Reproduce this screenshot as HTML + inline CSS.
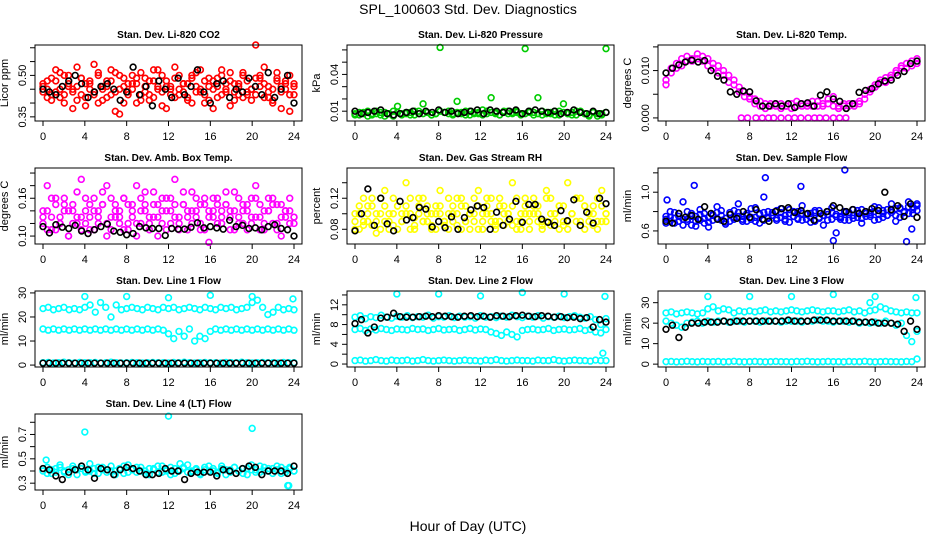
<!DOCTYPE html>
<html><head><meta charset="utf-8"><title>SPL_100603 Std. Dev. Diagnostics</title>
<style>
html,body{margin:0;padding:0;background:#fff;}
svg{display:block;font-family:"Liberation Sans",Arial,sans-serif;}
</style></head>
<body>
<svg id="chart" width="936" height="540" viewBox="0 0 936 540" xmlns="http://www.w3.org/2000/svg">
<rect width="936" height="540" fill="#fff"/>
<text x="468" y="14" text-anchor="middle" font-size="14">SPL_100603  Std. Dev. Diagnostics</text>
<text x="468" y="531" text-anchor="middle" font-size="14">Hour of Day (UTC)</text>
</svg>
<script>
// ---- data ----
const hourTicks = [0,4,8,12,16,20,24];
const co2A = [0.46,0.42,0.49,0.44,0.51,0.40,0.47,0.45,0.53,0.43,0.39,0.48,0.44,0.50,0.41,0.46,0.52,0.37,0.45,0.49,0.43,0.47,0.40,0.51,0.44,0.48,0.42,0.46,0.50,0.38,0.45,0.53,0.43,0.47,0.41,0.49,0.44,0.52,0.40,0.46,0.48,0.42,0.50,0.45,0.39,0.47,0.43,0.51,0.44,0.41,0.49,0.46,0.53,0.42,0.45,0.48,0.38,0.47,0.50,0.43];
const co2B = [0.44,0.48,0.41,0.52,0.45,0.43,0.50,0.38,0.46,0.49,0.42,0.47,0.54,0.40,0.45,0.48,0.43,0.51,0.36,0.46,0.44,0.50,0.47,0.41,0.49,0.43,0.52,0.45,0.39,0.48,0.46,0.42,0.50,0.44,0.47,0.40,0.51,0.45,0.43,0.49,0.38,0.46,0.52,0.44,0.48,0.41,0.47,0.50,0.43,0.45,0.61,0.49,0.42,0.46,0.40,0.51,0.44,0.48,0.37,0.46];
const co2C = [0.47,0.45,0.43,0.48,0.42,0.50,0.46,0.44,0.41,0.49,0.47,0.45,0.43,0.51,0.46,0.42,0.48,0.44,0.50,0.40,0.47,0.45,0.49,0.43,0.46,0.41,0.48,0.52,0.44,0.46,0.43,0.49,0.45,0.47,0.42,0.50,0.46,0.44,0.48,0.41,0.45,0.49,0.43,0.47,0.51,0.44,0.46,0.42,0.48,0.45,0.43,0.50,0.47,0.44,0.41,0.49,0.46,0.45,0.43,0.47];
const co2K = [0.45,0.44,0.43,0.46,0.48,0.50,0.47,0.42,0.44,0.46,0.47,0.45,0.41,0.44,0.53,0.43,0.46,0.39,0.48,0.45,0.42,0.49,0.43,0.46,0.52,0.44,0.40,0.47,0.48,0.42,0.45,0.44,0.49,0.46,0.43,0.51,0.42,0.45,0.50,0.40];
const prsA = [0.008,0.007,0.009,0.006,0.008,0.010,0.007,0.009,0.008,0.006,0.014,0.008,0.009,0.007,0.010,0.008,0.016,0.009,0.007,0.008,0.062,0.009,0.010,0.008,0.018,0.009,0.007,0.010,0.008,0.009,0.011,0.008,0.021,0.009,0.007,0.010,0.008,0.009,0.010,0.008,0.061,0.009,0.007,0.021,0.010,0.008,0.009,0.007,0.010,0.016,0.008,0.009,0.007,0.010,0.008,0.006,0.009,0.008,0.007,0.061];
const prsB = [0.007,0.009,0.008,0.010,0.007,0.008,0.009,0.006,0.008,0.010,0.009,0.007,0.008,0.009,0.007,0.010,0.008,0.009,0.007,0.008,0.010,0.009,0.008,0.007,0.009,0.008,0.010,0.007,0.009,0.008,0.007,0.010,0.009,0.008,0.007,0.009,0.010,0.008,0.009,0.007,0.008,0.010,0.009,0.008,0.007,0.009,0.008,0.010,0.007,0.009,0.008,0.007,0.010,0.009,0.008,0.007,0.009,0.006,0.008,0.009];
const prsK = [0.010,0.008,0.009,0.010,0.011,0.008,0.007,0.008,0.009,0.010,0.008,0.010,0.009,0.011,0.009,0.010,0.008,0.009,0.010,0.011,0.008,0.011,0.010,0.009,0.010,0.011,0.008,0.010,0.011,0.010,0.009,0.010,0.008,0.009,0.011,0.009,0.008,0.010,0.008,0.009];
const tmpA = [0.0080,0.0095,0.0105,0.0110,0.0120,0.0125,0.0135,0.0130,0.0125,0.0115,0.0110,0.0100,0.0090,0.0080,0.0065,0.0055,0.0045,0.0040,0.0035,0.0030,0.0030,0.0025,0.0030,0.0025,0.0030,0.0035,0.0025,0.0030,0.0025,0.0035,0.0030,0.0040,0.0045,0.0025,0.0030,0.0025,0.0030,0.0035,0.0040,0.0055,0.0065,0.0075,0.0085,0.0090,0.0095,0.0105,0.0115,0.0120,0.0115];
const tmpB = [0.0070,0.0105,0.0115,0.0125,0.0130,0.0120,0.0125,0.0120,0.0110,0.0105,0.0095,0.0090,0.0075,0.0070,0.0055,0.0045,0.0040,0.0030,0.0025,0.0020,0.0025,0.0030,0.0020,0.0025,0.0020,0.0025,0.0030,0.0025,0.0035,0.0025,0.0025,0.0030,0.0025,0.0020,0.0025,0.0030,0.0025,0.0030,0.0050,0.0060,0.0070,0.0080,0.0075,0.0085,0.0100,0.0110,0.0105,0.0110,0.0125];
const tmpZeroHours = [7.2,7.8,8.6,9.2,9.8,10.3,11,11.7,12.3,12.9,13.6,14.2,14.7,15.3,16,16.6,17.2];
const tmpZeroVals = [0,0,0,0,0,0,0,0,0,0,0,0,0,0,0,0,0];
const tmpK = [0.0095,0.0105,0.0112,0.0118,0.0122,0.0118,0.0121,0.0100,0.0088,0.0080,0.0055,0.0050,0.0057,0.0055,0.0036,0.0025,0.0025,0.0030,0.0025,0.0030,0.0022,0.0030,0.0032,0.0025,0.0048,0.0055,0.0040,0.0035,0.0020,0.0030,0.0054,0.0058,0.0062,0.0072,0.0078,0.0080,0.0090,0.0098,0.0115,0.0120];
const ambA = [0.13,0.18,0.11,0.15,0.12,0.16,0.10,0.14,0.13,0.19,0.12,0.15,0.11,0.14,0.17,0.10,0.13,0.15,0.12,0.16,0.11,0.14,0.18,0.12,0.15,0.13,0.17,0.10,0.14,0.16,0.12,0.19,0.13,0.15,0.11,0.17,0.14,0.12,0.16,0.09,0.14,0.15,0.13,0.17,0.11,0.14,0.16,0.12,0.15,0.13,0.18,0.11,0.14,0.16,0.12,0.15,0.10,0.14,0.16,0.13];
const ambB = [0.12,0.14,0.16,0.11,0.13,0.15,0.14,0.12,0.17,0.11,0.14,0.13,0.16,0.12,0.15,0.18,0.11,0.14,0.13,0.16,0.12,0.15,0.10,0.14,0.17,0.12,0.15,0.13,0.16,0.11,0.14,0.15,0.12,0.17,0.13,0.14,0.16,0.11,0.15,0.13,0.16,0.12,0.14,0.15,0.13,0.17,0.12,0.14,0.11,0.16,0.13,0.15,0.12,0.14,0.16,0.11,0.15,0.13,0.14,0.12];
const ambC = [0.14,0.11,0.13,0.16,0.12,0.14,0.10,0.15,0.12,0.13,0.16,0.11,0.14,0.13,0.15,0.12,0.16,0.13,0.14,0.11,0.15,0.13,0.12,0.16,0.14,0.11,0.13,0.15,0.12,0.14,0.16,0.13,0.11,0.15,0.14,0.12,0.13,0.15,0.11,0.14,0.13,0.16,0.12,0.15,0.14,0.11,0.13,0.15,0.14,0.12,0.16,0.13,0.11,0.14,0.15,0.12,0.13,0.14,0.12,0.13];
const ambK = [0.115,0.105,0.118,0.114,0.112,0.117,0.108,0.104,0.110,0.115,0.119,0.108,0.106,0.102,0.104,0.115,0.113,0.112,0.112,0.101,0.112,0.111,0.111,0.114,0.121,0.113,0.115,0.113,0.111,0.125,0.115,0.117,0.112,0.113,0.110,0.115,0.118,0.112,0.110,0.100];
const rhA = [0.10,0.08,0.12,0.09,0.11,0.075,0.10,0.13,0.09,0.085,0.11,0.10,0.14,0.08,0.095,0.12,0.09,0.11,0.08,0.10,0.13,0.085,0.10,0.09,0.12,0.08,0.11,0.10,0.09,0.13,0.08,0.10,0.12,0.09,0.11,0.085,0.10,0.14,0.09,0.08,0.11,0.10,0.12,0.09,0.08,0.13,0.10,0.09,0.11,0.085,0.14,0.10,0.09,0.12,0.08,0.10,0.11,0.09,0.13,0.10];
const rhB = [0.09,0.11,0.085,0.10,0.12,0.09,0.08,0.11,0.10,0.12,0.08,0.09,0.11,0.10,0.085,0.10,0.12,0.09,0.10,0.08,0.11,0.09,0.12,0.10,0.085,0.11,0.09,0.10,0.12,0.08,0.10,0.11,0.09,0.085,0.12,0.10,0.09,0.11,0.08,0.10,0.12,0.09,0.10,0.11,0.085,0.09,0.12,0.10,0.08,0.11,0.09,0.10,0.12,0.085,0.11,0.09,0.10,0.08,0.11,0.09];
const rhC = [0.08,0.10,0.09,0.11,0.085,0.10,0.12,0.09,0.08,0.10,0.11,0.09,0.10,0.12,0.08,0.11,0.09,0.10,0.085,0.11,0.10,0.09,0.08,0.11,0.10,0.12,0.09,0.08,0.10,0.11,0.09,0.12,0.10,0.08,0.09,0.11,0.10,0.085,0.12,0.09,0.10,0.08,0.11,0.10,0.09,0.12,0.085,0.10,0.11,0.09,0.08,0.10,0.12,0.09,0.11,0.10,0.085,0.12,0.09,0.10];
const rhK = [0.078,0.100,0.132,0.085,0.120,0.087,0.078,0.116,0.092,0.095,0.108,0.106,0.083,0.090,0.082,0.096,0.080,0.095,0.105,0.110,0.108,0.080,0.102,0.085,0.093,0.116,0.089,0.112,0.112,0.093,0.089,0.085,0.104,0.091,0.118,0.085,0.102,0.088,0.120,0.113];
const flowA = [0.72,0.80,0.68,0.75,0.90,0.70,0.78,0.65,0.82,0.73,0.69,0.77,0.85,0.71,0.67,0.79,0.74,0.88,0.70,0.76,0.72,0.84,0.68,0.95,0.74,0.79,0.71,0.83,0.76,0.69,0.80,0.73,0.86,0.72,0.78,0.70,0.81,0.66,0.77,0.84,0.58,0.75,0.79,0.71,0.82,0.74,0.68,0.80,0.77,0.85,0.72,0.81,0.76,0.88,0.70,0.83,0.79,0.90,0.78,0.86];
const flowB = [0.68,0.74,0.79,0.70,0.72,0.80,0.66,0.75,0.71,0.78,0.64,0.76,0.73,0.81,0.69,0.77,0.72,0.79,0.75,0.70,0.83,0.74,0.78,0.71,0.80,0.76,0.73,0.79,0.70,0.82,0.75,0.72,0.78,0.77,0.69,0.81,0.74,0.76,0.71,0.79,0.75,0.72,0.80,0.77,0.73,0.78,0.82,0.75,0.79,0.71,0.84,0.78,0.76,0.81,0.83,0.74,0.80,0.85,0.82,0.88];
const flowC = [0.75,0.70,0.73,0.78,0.66,0.72,0.75,0.70,0.77,0.68,0.74,0.71,0.79,0.76,0.73,0.70,0.81,0.75,0.72,0.78,0.74,0.70,0.77,0.79,0.73,0.76,0.81,0.74,0.72,0.78,0.75,0.80,0.71,0.77,0.74,0.79,0.73,0.76,0.80,0.72,0.77,0.74,0.71,0.79,0.76,0.81,0.73,0.78,0.75,0.80,0.77,0.74,0.82,0.79,0.76,0.84,0.80,0.78,0.85,0.81];
const flowOutHours = [0.1,2.7,9.5,12.9,16,17.1,23,23.5];
const flowOutVals = [0.92,1.07,1.15,1.06,0.50,1.23,0.49,0.62];
const flowK = [0.70,0.68,0.78,0.74,0.76,0.72,0.85,0.78,0.72,0.70,0.77,0.73,0.80,0.74,0.82,0.72,0.70,0.80,0.83,0.84,0.79,0.81,0.78,0.71,0.78,0.80,0.86,0.84,0.80,0.82,0.78,0.80,0.83,0.81,1.00,0.82,0.86,0.75,0.88,0.74];
const l1Top = [23.5,24,23,23.5,24,23,23.5,23,24,25,22,26,24,20,25,23,23.5,24,23.5,23,24,23.5,23,24,23.5,24,23,23.5,24,23.5,23,24,23.5,23,24,23.5,24,23,23.5,24,26,27,24,21,22,24,23,23.5,23];
const l1Mid = [15,14.5,15,14.5,15,14.5,15,14.5,15,14.5,15,14.5,15,14.5,15,14.5,15,14.5,15,14.5,15,14.5,15,14.5,13,11,14,12,15,10,12,11,14,15,14.5,15,14.5,15,14.5,15,14.5,15,14.5,15,14.5,15,14.5,15,14.5];
const l1Low = [1,1.1,0.9,1,1.2,1,0.9,1.1,1,1,1.1,0.9,1,1.2,1,0.9,1,1.1,1,0.9,1,1.1,1,1,0.9,1.1,1,1.2,1,0.9,1,1.1,1,1,0.9,1.1,1,1,1.2,1,0.9,1,1.1,1,1,0.9,1.1,1,1];
const l1K = [0.8,0.8,0.8,0.8,0.8,0.8,0.8,0.8,0.8,0.8,0.8,0.8,0.8,0.8,0.8,0.8,0.8,0.8,0.8,0.8,0.8,0.8,0.8,0.8,0.8,0.8,0.8,0.8,0.8,0.8,0.8,0.8,0.8,0.8,0.8,0.8,0.8,0.8,0.8,0.8];
const l1OutHours = [4,8,12,16,20,23.9];
const l1OutVals = [28.5,28.5,28,29,28.5,27.5];
const l2Top = [9.5,9.8,9.2,9.6,9.4,9.9,9.5,9.3,9.7,9.5,9.8,9.4,9.6,9.5,9.9,9.3,9.6,9.5,9.8,9.4,9.7,9.5,9.6,9.3,9.8,9.5,9.6,9.4,9.7,9.5,9.9,9.6,9.4,9.7,9.5,9.8,9.3,9.6,9.5,9.7,9.4,9.6,9.8,9.5,9.3,9.6,9.0,8.0,9.2];
const l2Mid = [7,7.2,6.8,7.1,6.9,7.2,7,6.8,7.1,7,6.9,7.2,7,7.1,6.8,7,7.2,6.9,7,7.1,6.8,7,7.2,6.9,7.1,7,6.5,6.2,5.8,6.5,6,5.5,6.8,7,7.1,6.9,7,7.2,6.8,7,7.1,6.9,7,7.2,6.8,7,6.5,6.3,7];
const l2Low = [0.7,0.8,0.6,0.7,0.9,0.7,0.6,0.8,0.7,0.7,0.8,0.6,0.7,0.9,0.7,0.6,0.7,0.8,0.7,0.6,0.7,0.8,0.7,0.7,0.6,0.8,0.7,0.9,0.7,0.6,0.7,0.8,0.7,0.7,0.6,0.8,0.7,0.7,0.9,0.7,0.6,0.7,0.8,0.7,0.7,0.6,0.8,0.7,0.7];
const l2K = [8.2,9.0,6.3,7.5,9.3,9.5,10.3,9.6,9.5,9.5,9.6,9.7,9.6,9.8,9.7,9.6,9.5,9.7,9.8,9.6,9.7,9.5,9.8,9.7,9.6,9.8,9.9,9.7,9.6,9.8,9.7,9.5,9.6,9.4,9.5,9.2,9.4,7.5,9.0,8.5];
const l2OutHours = [4,8,12,16,20,23.9,23.7];
const l2OutVals = [14.2,14.2,13.8,14.5,14.2,13.7,2.2];
const l3Top = [25,25.5,24.5,25,25.5,25,24.5,25,27,28,26,27,26.5,25,26,25.5,26,25.5,26,26.5,25.5,26,25.5,26,26.5,26,25.5,26,26.5,26,25.5,26,26,25.5,26,26.5,25.5,26,25,26,26.5,28,27,26,25.5,25,25.5,25,25];
const l3Mid = [21,20,19,18,20,20.5,21,20,21,20.5,21,21,20.5,21,21,20.5,21,21,20.5,21,21,21,20.5,21,21,21,20.5,21,21,21.5,21,21,20.5,21,21,20.5,21,20,20.5,20,20.5,20,21,20,19,20,14,11,16];
const l3Low = [1.2,1.3,1.1,1.2,1.4,1.2,1.1,1.3,1.2,1.2,1.3,1.1,1.2,1.4,1.2,1.1,1.2,1.3,1.2,1.1,1.2,1.3,1.2,1.2,1.1,1.3,1.2,1.4,1.2,1.1,1.2,1.3,1.2,1.2,1.1,1.3,1.2,1.2,1.4,1.2,1.1,1.2,1.3,1.2,1.2,1.1,1.3,1.2,2.5];
const l3K = [17,19,13,18,20,20,20.5,20.5,20.5,21,20.5,21,21,21,21,21,21,21,21,21.5,21,21,21,21.5,21.5,21.5,21,21,21,21,20.5,20.5,20.5,20,20,20,19.5,16,21,17];
const l3OutHours = [4,8,12,16,20,23.9,19.5];
const l3OutVals = [33,33,33,34,33,32.5,30];
const l4A = [0.40,0.43,0.38,0.42,0.45,0.39,0.41,0.44,0.37,0.42,0.40,0.46,0.38,0.43,0.41,0.39,0.44,0.40,0.42,0.38,0.45,0.41,0.39,0.43,0.40,0.37,0.42,0.44,0.39,0.41,0.43,0.38,0.40,0.42,0.45,0.39,0.41,0.37,0.43,0.40,0.42,0.38,0.44,0.41,0.39,0.43,0.40,0.42,0.37,0.45,0.41,0.39,0.43,0.40,0.42,0.44,0.38,0.41,0.43,0.40];
const l4B = [0.42,0.38,0.41,0.39,0.43,0.40,0.37,0.42,0.41,0.44,0.39,0.40,0.42,0.38,0.43,0.41,0.40,0.37,0.42,0.44,0.39,0.41,0.43,0.40,0.38,0.42,0.41,0.39,0.44,0.40,0.37,0.42,0.41,0.43,0.39,0.40,0.42,0.38,0.41,0.44,0.40,0.39,0.42,0.37,0.41,0.43,0.40,0.38,0.42,0.41,0.39,0.44,0.40,0.42,0.38,0.41,0.43,0.39,0.42,0.40];
const l4K = [0.42,0.41,0.36,0.33,0.39,0.41,0.44,0.41,0.34,0.42,0.41,0.37,0.41,0.43,0.42,0.40,0.37,0.37,0.38,0.42,0.40,0.40,0.33,0.38,0.39,0.39,0.39,0.36,0.41,0.40,0.38,0.42,0.44,0.43,0.37,0.40,0.40,0.40,0.38,0.44];
const l4OutHours = [4,12,20,0.3,13.1,23.4,23.5];
const l4OutVals = [0.72,0.85,0.75,0.49,0.46,0.28,0.28];

// ---- layout ----
const NS = "http://www.w3.org/2000/svg";
const svg = document.getElementById('chart');
const colL = [35,347,658], boxW = 267, rowT = [45,168,291,414], boxH = 76;
function evenHours(n){ const h=[]; for(let i=0;i<n;i++) h.push(i*24/(n-1)); return h; }
function mk(tag, attrs, parent){ const e=document.createElementNS(NS,tag); for(const k in attrs) e.setAttribute(k,attrs[k]); (parent||svg).appendChild(e); return e; }

const panels = [
 {key:'co2',title:'Stan. Dev. Li-820 CO2',ylab:'Licor ppm',col:0,row:0,y0:0.335,y1:0.61,ticks:[0.35,0.40,0.45,0.50,0.55,0.60],labels:{'0.35':'0.35','0.5':'0.50'},
  series:[[co2A,null,'#ff0000'],[co2B,null,'#ff0000'],[co2C,null,'#ff0000'],[co2K,null,'#000']]},
 {key:'pressure',title:'Stan. Dev. Li-820 Pressure',ylab:'kPa',col:1,row:0,y0:0.002,y1:0.064,ticks:[0.01,0.02,0.03,0.04,0.05,0.06],labels:{'0.01':'0.01','0.04':'0.04'},
  series:[[prsA,null,'#00cc00'],[prsB,null,'#00cc00'],[prsK,null,'#000']]},
 {key:'temp',title:'Stan. Dev. Li-820 Temp.',ylab:'degrees C',col:2,row:0,y0:-0.00065,y1:0.0154,ticks:[0,0.005,0.010,0.015],labels:{'0':'0.000','0.01':'0.010'},
  series:[[tmpA,null,'#ff00ff'],[tmpB,null,'#ff00ff'],[tmpZeroVals,tmpZeroHours,'#ff00ff'],[tmpK,null,'#000']]},
 {key:'ambtemp',title:'Stan. Dev. Amb. Box Temp.',ylab:'degrees C',col:0,row:1,y0:0.0874,y1:0.208,ticks:[0.10,0.12,0.14,0.16,0.18,0.20],labels:{'0.1':'0.10','0.16':'0.16'},
  series:[[ambA,null,'#ff00ff'],[ambB,null,'#ff00ff'],[ambC,null,'#ff00ff'],[ambK,null,'#000']]},
 {key:'rh',title:'Stan. Dev. Gas Stream RH',ylab:'percent',col:1,row:1,y0:0.061,y1:0.159,ticks:[0.08,0.10,0.12,0.14],labels:{'0.08':'0.08','0.12':'0.12'},
  series:[[rhA,null,'#ffff00'],[rhB,null,'#ffff00'],[rhC,null,'#ffff00'],[rhK,null,'#000']]},
 {key:'sampleflow',title:'Stan. Dev. Sample Flow',ylab:'ml/min',col:2,row:1,y0:0.465,y1:1.25,ticks:[0.6,0.8,1.0,1.2],labels:{'0.6':'0.6','1':'1.0'},
  series:[[flowA,null,'#0000ff'],[flowB,null,'#0000ff'],[flowC,null,'#0000ff'],[flowOutVals,flowOutHours,'#0000ff'],[flowK,null,'#000']]},
 {key:'line1',title:'Stan. Dev. Line 1 Flow',ylab:'ml/min',col:0,row:2,y0:-0.8,y1:30.8,ticks:[0,10,20,30],labels:{'0':'0','10':'10','20':'20','30':'30'},
  series:[[l1Top,null,'#00ffff'],[l1Mid,null,'#00ffff'],[l1Low,null,'#00ffff'],[l1OutVals,l1OutHours,'#00ffff'],[l1K,null,'#000']]},
 {key:'line2',title:'Stan. Dev. Line 2 Flow',ylab:'ml/min',col:1,row:2,y0:-0.6,y1:14.8,ticks:[0,2,4,6,8,10,12,14],labels:{'0':'0','4':'4','8':'8','12':'12'},
  series:[[l2Top,null,'#00ffff'],[l2Mid,null,'#00ffff'],[l2Low,null,'#00ffff'],[l2OutVals,l2OutHours,'#00ffff'],[l2K,null,'#000']]},
 {key:'line3',title:'Stan. Dev. Line 3 Flow',ylab:'ml/min',col:2,row:2,y0:-1.4,y1:35.7,ticks:[0,10,20,30],labels:{'0':'0','10':'10','20':'20','30':'30'},
  series:[[l3Top,null,'#00ffff'],[l3Mid,null,'#00ffff'],[l3Low,null,'#00ffff'],[l3OutVals,l3OutHours,'#00ffff'],[l3K,null,'#000']]},
 {key:'line4',title:'Stan. Dev. Line 4 (LT) Flow',ylab:'ml/min',col:0,row:3,y0:0.244,y1:0.868,ticks:[0.3,0.4,0.5,0.6,0.7,0.8],labels:{'0.3':'0.3','0.5':'0.5','0.7':'0.7'},
  series:[[l4A,null,'#00ffff'],[l4B,null,'#00ffff'],[l4OutVals,l4OutHours,'#00ffff'],[l4K,null,'#000']]}
];

panels.forEach(p=>{
  const L=colL[p.col], T=rowT[p.row], R=L+boxW, B=T+boxH;
  const xs = h => L+8+h*(boxW-16)/24;
  const ys = v => B-(v-p.y0)/(p.y1-p.y0)*boxH;
  const g = mk('g',{});
  
  
  const t = mk('text',{x:(L+R)/2,y:T-7,'text-anchor':'middle','font-size':10,'font-weight':'bold'},g);
  t.textContent = p.title;
  
  
  const yl = mk('text',{x:0,y:0,'text-anchor':'middle','font-size':11,transform:`translate(${L-27},${(T+B)/2}) rotate(-90)`},g);
  yl.textContent = p.ylab;
  
  
  hourTicks.forEach(h=>{
    mk('line',{x1:xs(h),x2:xs(h),y1:B,y2:B+5,stroke:'#000','stroke-width':1},g);
    const tl = mk('text',{x:xs(h),y:B+19,'text-anchor':'middle','font-size':11},g);
    tl.textContent = String(h);
    
    
  });
  p.ticks.forEach(v=>{
    const y=ys(v);
    mk('line',{x1:L-5,x2:L,y1:y,y2:y,stroke:'#000','stroke-width':1},g);
    const lab = p.labels[String(v)];
    if(lab!==undefined){
      const tl = mk('text',{x:0,y:0,'text-anchor':'middle','font-size':11,transform:`translate(${L-9},${y}) rotate(-90)`},g);
      tl.textContent = lab;
      
      
    }
  });
  const pts = mk('g',{},g);
  p.series.forEach(s=>{
    const vals=s[0], hrs=s[1]||evenHours(vals.length), col=s[2];
    vals.forEach((v,i)=>{
      const c = mk('circle',{cx:xs(hrs[i]),cy:ys(v),r:2.9,fill:'none',stroke:col,'stroke-width':1.6},pts);
      
      
    });
  });
  const box = mk('rect',{x:L,y:T,width:boxW,height:boxH,fill:'none',stroke:'#000','stroke-width':1},g);
  
  
});
</script>
</body></html>
